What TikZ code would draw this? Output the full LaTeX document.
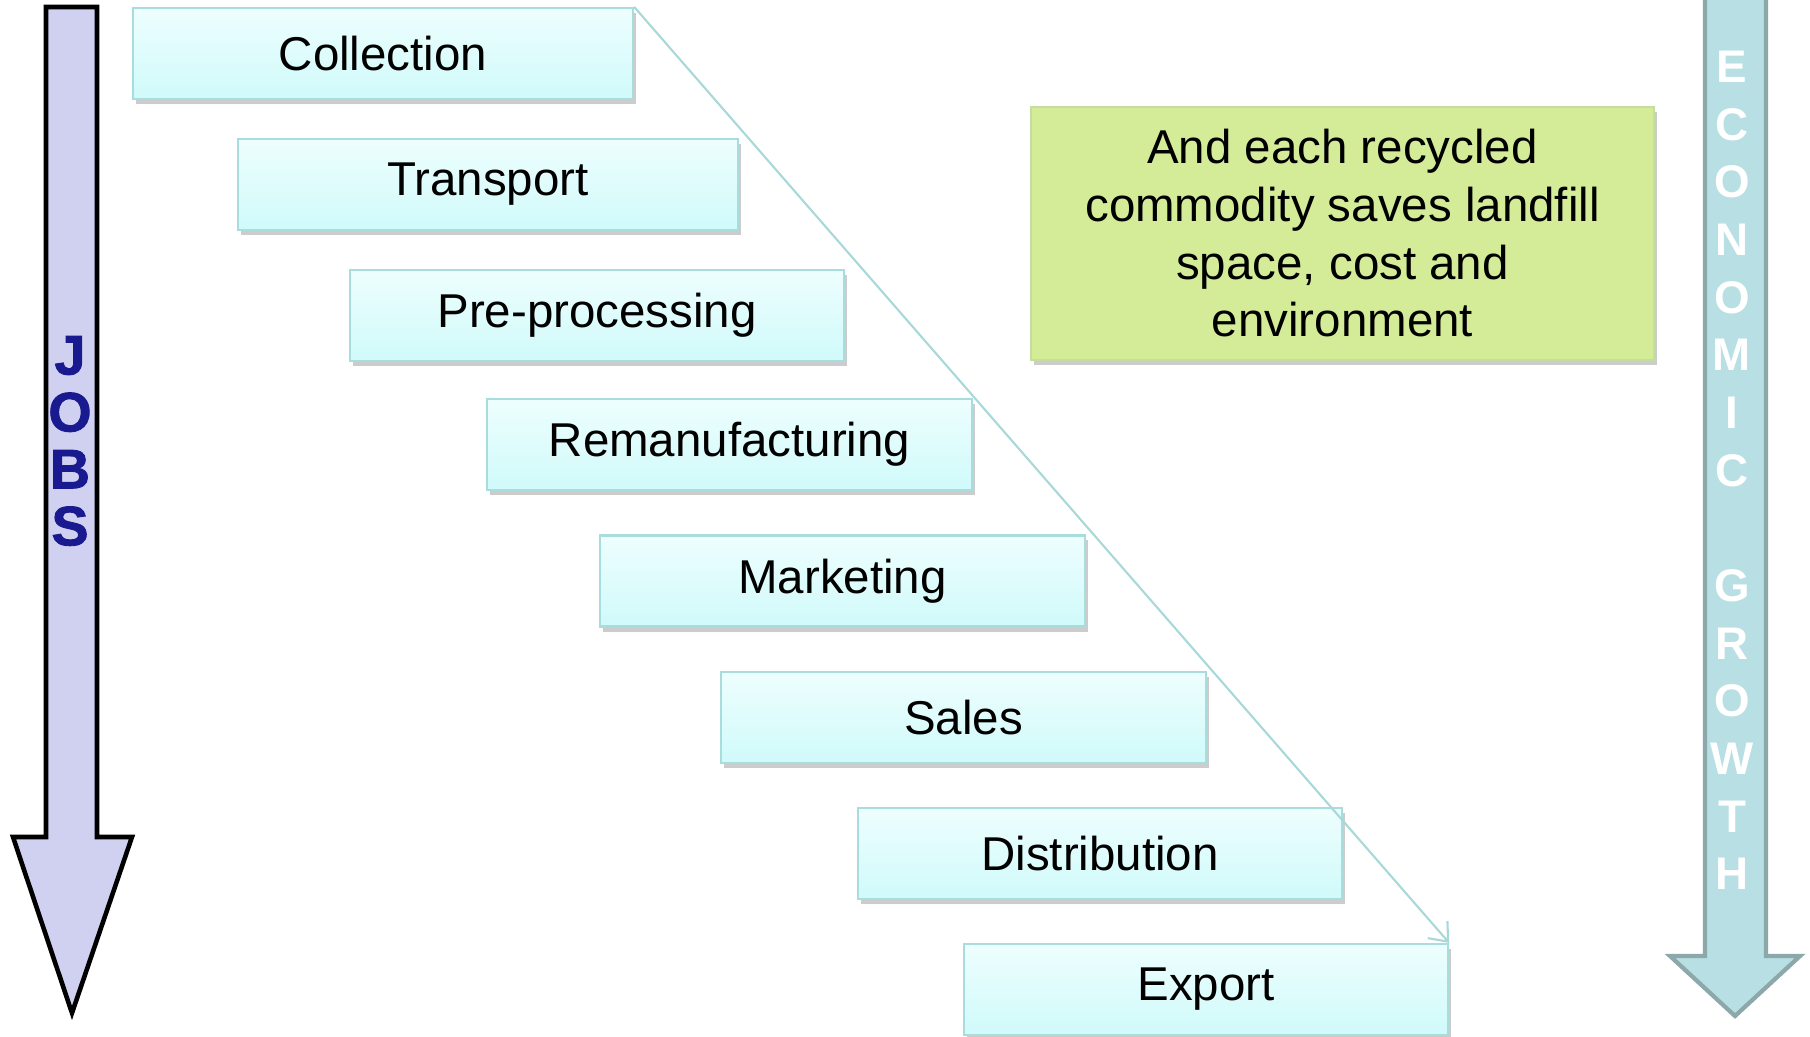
\documentclass[tikz,border=0pt]{standalone}
\usepackage{fontspec}
\setmainfont{Liberation Sans}
\newfontfamily\jobsfont[BoldFeatures={FakeBold=1.6}]{Liberation Sans}
\usetikzlibrary{shadows, arrows.meta}

\definecolor{boxtop}{HTML}{EEFEFE}
\definecolor{boxbottom}{HTML}{D0FAFA}
\definecolor{boxline}{HTML}{A9DCDC}
\definecolor{notefill}{HTML}{D4EC98}
\definecolor{noteline}{HTML}{C4DEA0}
\definecolor{jobsfill}{HTML}{D0D0F0}
\definecolor{jobstext}{HTML}{1A1A90}
\definecolor{growthfill}{HTML}{B8DFE3}
\definecolor{growthline}{HTML}{8CA8AA}
\definecolor{diagline}{HTML}{A8D8D8}

\begin{document}
\begin{tikzpicture}[x=0.01cm, y=-0.01cm]
        % Define styles
        \tikzset{
            stage/.style={rectangle, draw=boxline, line width=0.6pt, top color=boxtop, bottom color=boxbottom, minimum width=4.85cm, minimum height=0.91cm, inner sep=0pt, drop shadow={shadow xshift=0.03cm, shadow yshift=-0.05cm, opacity=0.4}, font=\fontsize{13.5}{16.4}\selectfont},
            note/.style={rectangle, draw=noteline, line width=0.6pt, fill=notefill, minimum width=6.23cm, minimum height=2.53cm, inner sep=0pt, align=center, drop shadow={shadow xshift=0.03cm, shadow yshift=-0.05cm, opacity=0.4}, font=\fontsize{13.5}{16.4}\selectfont},
            arrow/.style={->, >={Straight Barb[length=1.6mm, width=2.6mm]}, draw=diagline, line width=0.6pt}
        }
        \useasboundingbox (0,0) rectangle (1810,1037);

        % Big arrows
        \draw[line width=1.3pt, fill=jobsfill, line join=miter] (46,7) -- (97,7) -- (97,837) -- (132,837) -- (72,1013) -- (13,837) -- (46,837) -- cycle;
        \draw[line width=1.2pt, draw=growthline, fill=growthfill, line join=miter] (1705,-10) -- (1705,956) -- (1670,956) -- (1735,1016) -- (1800,956) -- (1766,956) -- (1766,-10) -- cycle;

        \node[text=jobstext, align=center, font=\jobsfont\bfseries\fontsize{15.8}{16.2}\selectfont] (jobs_label) at (70,441) {J\\O\\B\\S};
        \node[text=white, align=center, font=\bfseries\fontsize{13}{16.4}\selectfont] (growth_label) at (1732,470.5) {E\\C\\O\\N\\O\\M\\I\\C\\[0.576cm]G\\R\\O\\W\\T\\H};

        % Nodes
        \node[stage, minimum width=5cm] (collection) at (383,53.5) {Collection};
        \node[stage, minimum width=5cm] (transport) at (488,184.5) {Transport};
        \node[stage, minimum width=4.94cm] (preprocessing) at (597,315.5) {Pre-processing};
        \node[stage] (remanufacturing) at (729.5,444.5) {Remanufacturing};
        \node[stage] (marketing) at (842.5,581) {Marketing};
        \node[stage] (sales) at (963.5,717.5) {Sales};
        \node[stage, minimum width=4.84cm] (distribution) at (1100,853.5) {Distribution};
        \node[stage, minimum width=4.84cm] (export) at (1206,989.5) {Export};

        \node[note] (note_box) at (1342.5,233.5) {And each recycled\\commodity saves landfill\\space, cost and\\environment};

        % Arrows
        \draw[arrow] (collection.north east) -- (export.north east);
\end{tikzpicture}
\end{document}
